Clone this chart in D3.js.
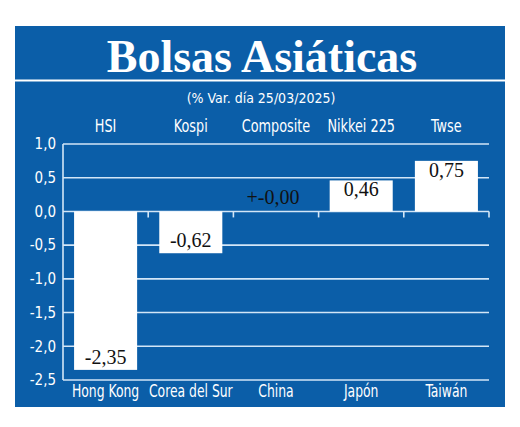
<!DOCTYPE html>
<html>
<head>
<meta charset="utf-8">
<script src="https://cdn.jsdelivr.net/npm/d3@7"></script>
<style>
  body { margin: 0; background: #fff; }
  svg { display: block; }
  .cond { font-family: "Liberation Sans Narrow", "DejaVu Sans Condensed", "Open Sans", sans-serif; }
</style>
</head>
<body>
<svg width="520" height="427"></svg>
<script>
"use strict";

// datos
var indices = ["HSI", "Kospi", "Composite", "Nikkei 225", "Twse"];
var paises = ["Hong Kong", "Corea del Sur", "China", "Japón", "Taiwán"];
var variacion = [-2.35, -0.62, 0.00, 0.46, 0.75];
var etiquetas = ["-2,35", "-0,62", "+-0,00", "0,46", "0,75"];
var yTicks = [1.0, 0.5, 0.0, -0.5, -1.0, -1.5, -2.0, -2.5];

var data = paises.map(function(p, i) {
  return { pais: p, indice: indices[i], valor: variacion[i], label: etiquetas[i] };
});

var svg = d3.select("svg");
var blue = "#0b5ea8", grid = "#d3e6f7";

// panel
svg.append("rect")
  .attr("x", 15).attr("y", 26)
  .attr("width", 490).attr("height", 381)
  .attr("fill", blue);

svg.append("line")
  .attr("x1", 15).attr("x2", 505)
  .attr("y1", 80.5).attr("y2", 80.5)
  .attr("stroke", "#fff").attr("stroke-width", 2);

svg.append("text")
  .attr("x", 262).attr("y", 72)
  .attr("text-anchor", "middle")
  .attr("fill", "#fff")
  .style("font-family", "'Liberation Serif', serif")
  .style("font-weight", "bold")
  .style("font-size", "46px")
  .text("Bolsas Asiáticas");

svg.append("text")
  .attr("class", "cond")
  .attr("x", 261).attr("y", 103)
  .attr("text-anchor", "middle")
  .attr("fill", "#fff")
  .style("font-size", "14px")
  .text("(% Var. día 25/03/2025)");

var mLeft = 63, mRight = 489, mTop = 144, mBottom = 380;

var x = d3.scaleBand().domain(paises).range([mLeft, mRight]);
var xb = d3.scaleBand().domain(paises).range([mLeft, mRight])
  .paddingInner(0.26).paddingOuter(0.13);
var y = d3.scaleLinear().domain([-2.5, 1.0]).range([mBottom, mTop]);

var g = svg.append("g");

// rejilla
g.selectAll(".grid")
  .data(yTicks)
  .enter().append("line")
  .attr("x1", mLeft).attr("x2", mRight)
  .attr("y1", function(d) { return y(d); })
  .attr("y2", function(d) { return y(d); })
  .attr("stroke", grid).attr("stroke-width", 1.6);

g.append("line")
  .attr("x1", mLeft).attr("x2", mLeft)
  .attr("y1", mTop).attr("y2", mBottom)
  .attr("stroke", grid).attr("stroke-width", 1.6);

// ticks en el eje cero
g.selectAll(".tick0")
  .data(paises)
  .enter().append("line")
  .attr("x1", function(d) { return x(d) + x.bandwidth(); })
  .attr("x2", function(d) { return x(d) + x.bandwidth(); })
  .attr("y1", y(0)).attr("y2", y(0) + 6)
  .attr("stroke", grid).attr("stroke-width", 1.6);

// etiquetas eje y
g.selectAll(".ylab")
  .data(yTicks)
  .enter().append("text")
  .attr("class", "cond")
  .attr("x", 56)
  .attr("y", function(d) { return y(d); })
  .attr("dy", "0.35em")
  .attr("text-anchor", "end")
  .attr("fill", "#fff")
  .style("font-size", "15px")
  .text(function(d) { return d3.format(".1f")(d).replace(".", ",").replace("−", "-"); });

// barras
g.selectAll(".bar")
  .data(data)
  .enter().append("rect")
  .attr("x", function(d) { return xb(d.pais); })
  .attr("width", xb.bandwidth())
  .attr("y", function(d) { return y(Math.max(0, d.valor)); })
  .attr("height", function(d) { return Math.abs(y(d.valor) - y(0)); })
  .attr("fill", "#fff");

// valores
g.selectAll(".val")
  .data(data)
  .enter().append("text")
  .attr("x", function(d) { return xb(d.pais) + xb.bandwidth() / 2 - (d.valor === 0 ? 3 : 0); })
  .attr("y", function(d) {
    if (d.valor > 0) return y(d.valor) + 16;
    if (d.valor < 0) return y(d.valor) - 6;
    return y(0) - 7;
  })
  .attr("text-anchor", "middle")
  .attr("fill", "#111")
  .style("font-family", "'Liberation Serif', serif")
  .style("font-size", "20px")
  .text(function(d) { return d.label; });

// texto estrecho: escala horizontal
var sx = 0.84;

// indices arriba
g.selectAll(".idx")
  .data(data)
  .enter().append("text")
  .attr("class", "cond")
  .attr("transform", "scale(" + sx + ",1)")
  .attr("x", function(d) { return (x(d.pais) + x.bandwidth() / 2) / sx; })
  .attr("y", 132)
  .attr("text-anchor", "middle")
  .attr("fill", "#fff")
  .style("font-size", "17px")
  .text(function(d) { return d.indice; });

// paises abajo
g.selectAll(".pais")
  .data(data)
  .enter().append("text")
  .attr("class", "cond")
  .attr("transform", "scale(0.81,1)")
  .attr("x", function(d) { return (x(d.pais) + x.bandwidth() / 2) / 0.81; })
  .attr("y", 397)
  .attr("text-anchor", "middle")
  .attr("fill", "#fff")
  .style("font-size", "17px")
  .text(function(d) { return d.pais; });
</script>
</body>
</html>
